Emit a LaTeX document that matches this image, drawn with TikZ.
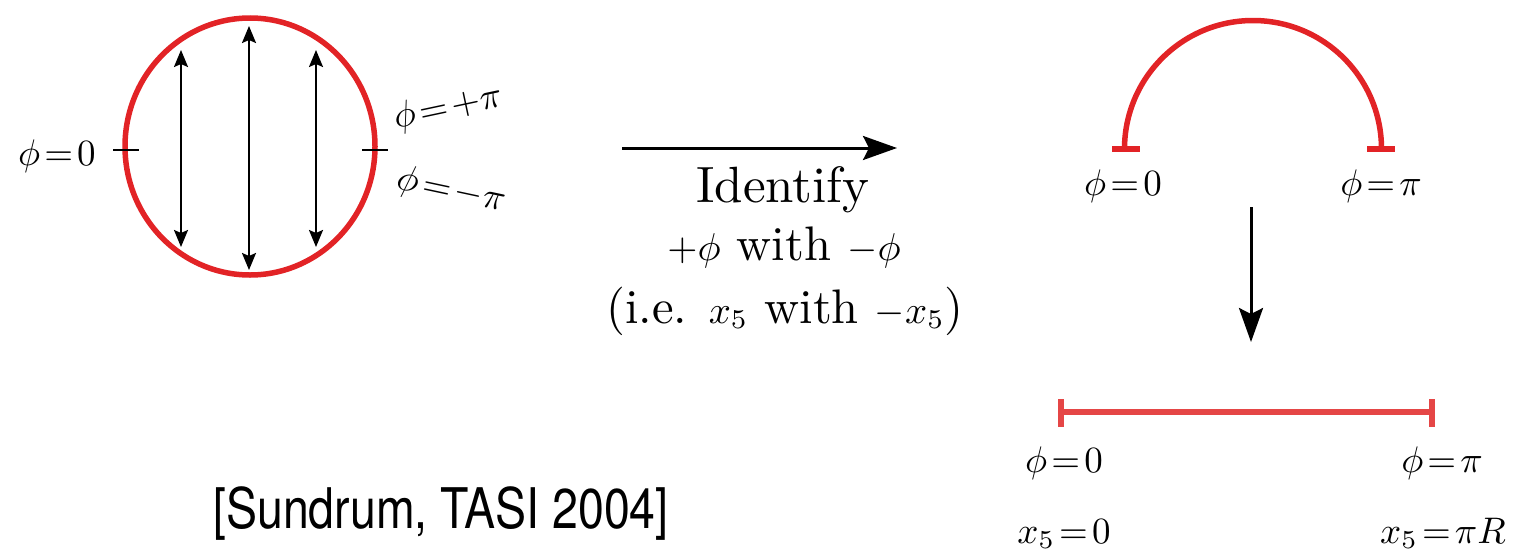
\documentclass[tikz,border=0pt]{standalone}
\usepackage{fontspec}
\usepackage{graphicx}
\newfontfamily\citefont{TeX Gyre Heros}
\usetikzlibrary{arrows.meta}
\definecolor{cred}{RGB}{226,35,38}
\definecolor{lred}{RGB}{229,70,70}
\tikzset{
  lab/.style={inner sep=0pt, scale=3.7, anchor=base},
  txt/.style={inner sep=0pt, scale=4.85, anchor=base},
  redline/.style={draw=cred, line width=5.5pt},
  smallarrow/.style={line width=2.2pt, {Stealth[length=17pt,width=14pt,inset=3pt]}-{Stealth[length=17pt,width=14pt,inset=3pt]}},
  bigarrow/.style={line width=3pt, -{Stealth[length=34pt,width=24pt,inset=6pt]}},
  tick/.style={line width=2pt}
}
\newcommand{\smath}[1]{\scalebox{0.8}{$#1$}}
\begin{document}
\begin{tikzpicture}[x=1pt,y=-1pt]
\useasboundingbox (0,0) rectangle (1531,554);
% circle
\draw[redline] (250,146.5) ellipse [x radius=125, y radius=128.5];
\coordinate (lt1) at (113,150); \coordinate (lt2) at (139,150);
\coordinate (rt1) at (362,150); \coordinate (rt2) at (388,150);
\draw[tick] (lt1) -- (lt2);
\draw[tick] (rt1) -- (rt2);
\coordinate (a1t) at (181,50); \coordinate (a1b) at (181,247);
\coordinate (a2t) at (249,26); \coordinate (a2b) at (249,270);
\coordinate (a3t) at (316,50); \coordinate (a3b) at (316,247);
\draw[smallarrow] (a1t) -- (a1b);
\draw[smallarrow] (a2t) -- (a2b);
\draw[smallarrow] (a3t) -- (a3b);
\node[lab] (l0) at (57,165) {$\phi\!=\!0$};
\node[inner sep=0pt, scale=3.7, rotate=12] (lp) at (448,108) {$\phi\!=\!+\pi$};
\node[inner sep=0pt, scale=3.7, rotate=-12] (lm) at (451,191) {$\phi\!=\!-\pi$};
% big arrow and text
\coordinate (bs) at (622,148); \coordinate (be) at (897,148);
\draw[bigarrow] (bs) -- (be);
\node[inner sep=0pt, scale=5.1, anchor=base] (id) at (783,202) {Identify};
\node[txt] (l2) at (784,260) {\smath{+\phi} with \smath{-\phi}};
\node[txt] (l3) at (785,323) {(i.e. \smath{x_5} with \smath{-x_5})};
% semicircle
\draw[redline] (1124.5,149) arc[start angle=180, end angle=360, radius=128.5];
\coordinate (s1a) at (1112,149); \coordinate (s1b) at (1140,149);
\coordinate (s2a) at (1367,149); \coordinate (s2b) at (1395,149);
\draw[redline] (s1a) -- (s1b);
\draw[redline] (s2a) -- (s2b);
\node[lab] (u0) at (1123,195) {$\phi\!=\!0$};
\node[lab] (up) at (1381,195) {$\phi\!=\!\pi$};
% down arrow
\coordinate (ds) at (1251,207); \coordinate (de) at (1251,342);
\draw[bigarrow] (ds) -- (de);
% segment
\coordinate (sa) at (1061,412); \coordinate (sb) at (1432,412);
\coordinate (sa1) at (1061,399); \coordinate (sa2) at (1061,427);
\coordinate (sb1) at (1432,399); \coordinate (sb2) at (1432,427);
\draw[draw=lred, line width=5.5pt] (sa) -- (sb);
\draw[draw=lred, line width=5.5pt] (sa1) -- (sa2);
\draw[draw=lred, line width=5.5pt] (sb1) -- (sb2);
\node[lab] (b0) at (1064,472) {$\phi\!=\!0$};
\node[lab] (bp) at (1442,472) {$\phi\!=\!\pi$};
\node[lab] (x0) at (1064,543) {$x_5\!=\!0$};
\node[lab] (xp) at (1443,543) {$x_5\!=\!\pi R$};
% citation
\node[inner sep=0pt, anchor=base, xscale=0.83, font=\citefont\fontsize{56}{64}\selectfont] (cite) at (441,528) {[Sundrum, TASI 2004]};
\end{tikzpicture}
\end{document}
